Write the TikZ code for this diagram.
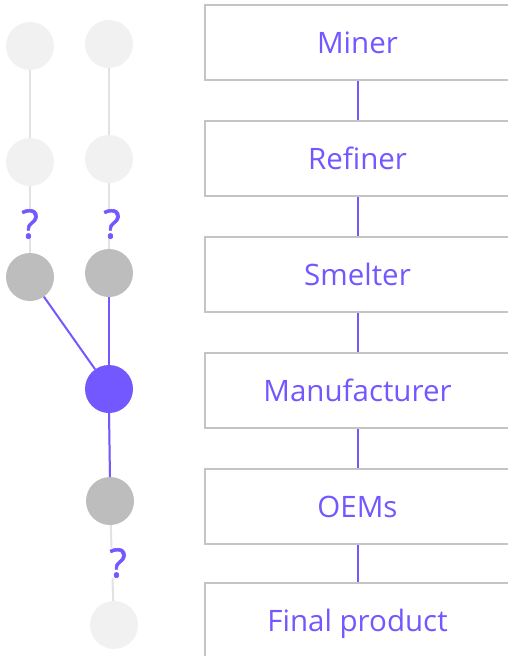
\documentclass[tikz,border=0pt]{standalone}
\usepackage{fontspec}
\setmainfont{Open Sans}
\newfontfamily\qfont[FakeBold=1.5]{Open Sans}
\definecolor{vio}{HTML}{7357FF}
\definecolor{boxgray}{HTML}{C4C4C4}
\definecolor{dotgray}{HTML}{BDBDBD}
\definecolor{dotlight}{HTML}{F1F1F1}
\definecolor{linegray}{HTML}{E2E2E2}
\begin{document}
\begin{tikzpicture}[x=1pt,y=-1pt,
  stage/.style={draw=boxgray,line width=2pt,minimum width=305pt,minimum height=75pt,inner sep=0pt,anchor=north,text=vio,font=\fontsize{29.5}{32}\selectfont},
  dot/.style={circle,minimum size=48pt,inner sep=0pt},
  lightdot/.style={dot,fill=dotlight},
  greydot/.style={dot,fill=dotgray},
  activedot/.style={dot,fill=vio},
  qmark/.style={text=vio,font=\fontsize{40}{40}\qfont},
  link/.style={draw=vio,line width=2pt},
  track/.style={draw=linegray,line width=2pt}]
\useasboundingbox (0,0) rectangle (508,656);
\clip (0,0) rectangle (508,656);
% stages
\node[stage] (miner) at (357.5,4) {Miner};
\node[stage] (refiner) at (357.5,120) {Refiner};
\node[stage] (smelter) at (357.5,236) {Smelter};
\node[stage] (manuf) at (357.5,352) {Manufacturer};
\node[stage] (oems) at (357.5,468) {OEMs};
\node[stage,minimum height=90pt] (final) at (357.5,582) {};
\node[text=vio,font=\fontsize{29.5}{32}\selectfont] (finaltxt) at (357.5,624) {Final product};
\foreach \a/\b in {miner/refiner,refiner/smelter,smelter/manuf,manuf/oems,oems/final}
  \draw[link] (\a.south) -- (\b.north);
% dots
\node[lightdot] (a1) at (30,46) {};
\node[lightdot] (a2) at (30,162) {};
\node[greydot] (a3) at (30,277) {};
\node[lightdot] (b1) at (109,44) {};
\node[lightdot] (b2) at (109,159) {};
\node[greydot] (b3) at (109,273) {};
\node[activedot] (p) at (109,389) {};
\node[greydot] (g) at (110,501) {};
\node[lightdot] (f) at (114,625) {};
% tracks
\draw[track] (a1) -- (a2);
\draw[track] (a2) -- (a3);
\draw[track] (b1) -- (b2);
\draw[track] (b2) -- (b3);
\draw[track] (b3) -- (p);
\draw[track] (p) -- (g);
\draw[track] (g) -- (f);
% question marks
\node[qmark,fill=white,inner sep=0pt] (q1) at (30,224) {?};
\node[qmark,fill=white,inner sep=0pt] (q2) at (112,224) {?};
\node[qmark,fill=white,inner sep=0pt] (q3) at (118,563) {?};
% links
\draw[link] (a3) -- (p);
\draw[link] (b3.south) -- (p.north);
\draw[link] (p.south) -- (g.north);
\end{tikzpicture}
\end{document}
